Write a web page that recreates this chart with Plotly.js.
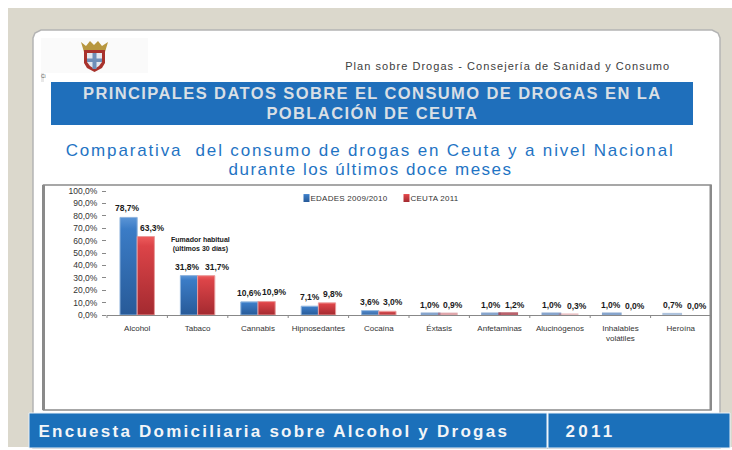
<!DOCTYPE html>
<html><head><meta charset="utf-8">
<script src="https://cdn.plot.ly/plotly-3.0.1.min.js"></script>
<style>html,body{margin:0;padding:0;background:#fff;overflow:hidden}</style>
</head><body><div id="chart" style="width:732px;height:450px"></div>
<script>
const categories = ['Alcohol','Tabaco','Cannabis','Hipnosedantes','Cocaína','Éxtasis','Anfetaminas','Alucinógenos','Inhalables<br>volátiles','Heroína'];
const edades = [78.7,31.8,10.6,7.1,3.6,1.0,1.0,1.0,1.0,0.7];
const ceuta = [63.3,31.7,10.9,9.8,3.0,0.9,1.2,0.3,0.0,0.0];
const yTicks = [0,10,20,30,40,50,60,70,80,90,100];
const yTickLabels = ['0,0%','10,0%','20,0%','30,0%','40,0%','50,0%','60,0%','70,0%','80,0%','90,0%','100,0%'];

const edadesOpacity = [1,1,1,1,.9,.75,.75,.75,.75,.5];
const ceutaOpacity = [1,1,1,1,.95,.5,.8,.35,0,0];
const edadesLine = [1,1,1,1,1,2.5,2.5,2.5,2.5,2.5];
const ceutaLine = [1,1,1,1,1,2.5,2.5,2.5,0,0];
const edadesLineColor = ['#8fb4dd','#8fb4dd','#8fb4dd','#8fb4dd','#8fb4dd','#5f88bd','#5f88bd','#5f88bd','#5f88bd','#5f88bd'];
const ceutaLineColor = ['#ea9a9a','#ea9a9a','#ea9a9a','#ea9a9a','#ea9a9a','#c0505a','#a83c48','#c0505a','#c0505a','#c0505a'];
const edadesDx = [-10,-10,-9,-8,-9,-9,-9,-8,-9,-8];
const ceutaDx = [15,20,16,14.5,14,14,15,17,15,16];
const labelLift = 9;
const FF='Liberation Sans, Arial, sans-serif';

const L=107,R=711,T=191,B=315;
const px=x=>(x-L)/(R-L), py=(y)=>(B-y)/(B-T);
function rect(x0,y0,x1,y1,fill,line,lw){return {type:'rect',xref:'paper',yref:'paper',layer:'below',x0:px(x0),x1:px(x1),y0:py(y0),y1:py(y1),fillcolor:fill,line:{color:line||fill,width:lw||0}};}
function poly(pts,fill,line,lw){const d=pts.map((p,i)=>(i?'L':'M')+px(p[0]).toFixed(5)+','+py(p[1]).toFixed(5)).join(' ')+' Z';return {type:'path',xref:'paper',yref:'paper',layer:'below',path:d,fillcolor:fill,line:{color:line||fill,width:lw||0}};}
function note(x,y,text,size,color,extra,weight){return Object.assign({xref:'paper',yref:'paper',x:px(x),y:py(y),text,showarrow:false,xanchor:'center',yanchor:'middle',font:{family:FF,size,color,weight:weight||400}},extra||{});}
const fmt=v=>v.toFixed(1).replace('.',',')+'%';

const shapes=[
 rect(8,8,732,447,'#dbd8cc'),
 poly([[33,448],[33,38],[35,33],[41,30],[712,30],[718,33],[720,38],[720,448]],'#ffffff','#b4b4b4',1.5),
 rect(41,38,148,73,'#fafafa'),
 rect(41,73,44,82,'#e8e8e8'),
 poly([[81,42],[86,46],[90,41],[94,45],[98,41],[102,46],[108,42],[105,52],[84,52]],'#b8973f'),
 poly([[84,50],[105,50],[105,63],[102,68],[94.5,72],[87,68],[84,63]],'#a8322c'),
 poly([[87,53],[102,53],[102,62],[99,66],[94.5,69],[90,66],[87,62]],'#e4e8ee'),
 rect(92.5,53,96.5,69,'#6f8fb8'),
 rect(87,58.5,102,62,'#6f8fb8'),
 rect(51,82,693,125,'#1f6fbb'),
 rect(43.5,185,711,410,'#ffffff','#8a8a8a',1.5),
 rect(42,185,45,410,'#8a8a8a'),
 rect(709.5,185,712,410,'#8a8a8a'),
 rect(29,413,547,448,'#1b70ba','#e8f0f8',1),
 rect(548,413,730,448,'#1b70ba','#e8f0f8',1)
];

const annotations=[
 note(507.5,66,'Plan sobre Drogas - Consejería de Sanidad y Consumo',11,'#404040'),
 note(43.5,76,'Ci',5,'#666'),
 note(372.5,93,'PRINCIPALES DATOS SOBRE EL CONSUMO DE DROGAS EN LA',16.5,'#d9dfe5',{},700),
 note(372.5,113,'POBLACIÓN DE CEUTA',16.5,'#d9dfe5',{},700),
 note(370,150,'Comparativa  del consumo de drogas en Ceuta y a nivel Nacional',17,'#1f74c4'),
 note(370,169,'durante los últimos doce meses',17,'#1f74c4'),
 note(200,244,'Fumador habitual<br>(últimos 30 días)',7,'#1a1a1a',{},700),
 note(273.5,431,'Encuesta Domiciliaria sobre Alcohol y Drogas',17,'#f2f5f8',{},700),
 note(590.5,431,'2011',17,'#f2f5f8',{},700)
];
function addLabels(vals,dx){vals.forEach((v,i)=>annotations.push({xref:'x',yref:'y',x:i,y:v,text:fmt(v),showarrow:false,xanchor:'center',yanchor:'middle',xshift:dx[i],yshift:labelLift,font:{family:FF,size:8.5,color:'#1a1a1a',weight:700}}));}
addLabels(edades,edadesDx);addLabels(ceuta,ceutaDx);

const xIdx=categories.map((_,i)=>i);
const traces=[
 {type:'bar',name:'EDADES 2009/2010',x:xIdx,y:edades,marker:{color:'#2f6fb5',opacity:edadesOpacity,line:{color:edadesLineColor,width:edadesLine}}},
 {type:'bar',name:'CEUTA 2011',x:xIdx,y:ceuta,marker:{color:'#cb3a3f',opacity:ceutaOpacity,line:{color:ceutaLineColor,width:ceutaLine}}}
];
const layout={
 width:732,height:450,autosize:false,
 margin:{l:L,r:732-R,t:T,b:450-B,pad:0},
 paper_bgcolor:'#ffffff',plot_bgcolor:'rgba(0,0,0,0)',
 font:{family:FF,size:8,color:'#333'},
 barmode:'group',bargap:.43,bargroupgap:0,
 showlegend:true,
 legend:{orientation:'h',x:px(286.5),xanchor:'left',y:py(198),yanchor:'middle',bgcolor:'rgba(0,0,0,0)',font:{size:8,color:'#333'},itemwidth:30,entrywidth:55,entrywidthmode:'pixels',traceorder:'normal'},
 xaxis:{type:'linear',range:[-.5,9.5],tickmode:'array',tickvals:xIdx,ticktext:categories,ticks:'',showgrid:false,zeroline:false,showline:true,linecolor:'#888',linewidth:1,ticklabelstandoff:5,tickangle:0,automargin:false,tickfont:{size:8,color:'#333'}},
 yaxis:{range:[0,100],tickmode:'array',tickvals:yTicks,ticktext:yTickLabels,ticks:'outside',ticklen:4,tickcolor:'#888',ticklabelstandoff:3,showgrid:false,zeroline:false,showline:false,automargin:false,tickfont:{size:8.5,color:'#333'}},
 shapes,annotations
};
for(let i=0;i<=10;i++){const x=L+(R-L)*i/10;shapes.push({type:'line',xref:'paper',yref:'paper',x0:px(x),x1:px(x),y0:0,y1:py(B+3),line:{color:'#888',width:1}});}
Plotly.newPlot('chart',traces,layout,{displayModeBar:false,responsive:false}).then(()=>{
 const spacing=[['Comparativa','1.85px'],['durante','1.5px'],['Plan sobre','1.05px'],['Encuesta','2.25px'],['2011','3.2px'],['PRINCIPALES','1.4px'],['POBLACI','1.4px']];
 document.querySelectorAll('.annotation-text').forEach(t=>{
  const s=spacing.find(p=>t.textContent.startsWith(p[0]));
  if(s)t.style.letterSpacing=s[1];
 });
 const svg=document.querySelector('#chart .main-svg');
 const NS='http://www.w3.org/2000/svg';
 const defs=document.createElementNS(NS,'defs');
 [['gb','#5b95d6','#3b7cc6','#275a98'],['gr','#ee5c5c','#dc4448','#a32a30']].forEach(g=>{
  const lg=document.createElementNS(NS,'linearGradient');
  lg.setAttribute('id',g[0]);lg.setAttribute('x1','0');lg.setAttribute('y1','0');lg.setAttribute('x2','0');lg.setAttribute('y2','1');
  [[0,g[1]],[.12,g[2]],[1,g[3]]].forEach(st=>{const s=document.createElementNS(NS,'stop');s.setAttribute('offset',st[0]);s.setAttribute('stop-color',st[1]);lg.appendChild(s);});
  defs.appendChild(lg);svg.appendChild(defs);
 });
 document.querySelectorAll('#chart .barlayer .trace').forEach((tr,i)=>{
  tr.querySelectorAll('.point path').forEach(p=>{p.style.fill='url(#'+(i?'gr':'gb')+')';});
 });
 document.querySelectorAll('#chart .legend .traces').forEach((tr,i)=>{
  const p=tr.querySelector('.legendpoints path');
  if(p){p.setAttribute('d','M3,4H-3V-4H3Z');p.style.fill='url(#'+(i?'gr':'gb')+')';p.style.strokeWidth='0';}
  const t=tr.querySelector('.legendtext');
  if(t){t.setAttribute('x','24');t.style.letterSpacing='.25px';}
 });
});
</script></body></html>
